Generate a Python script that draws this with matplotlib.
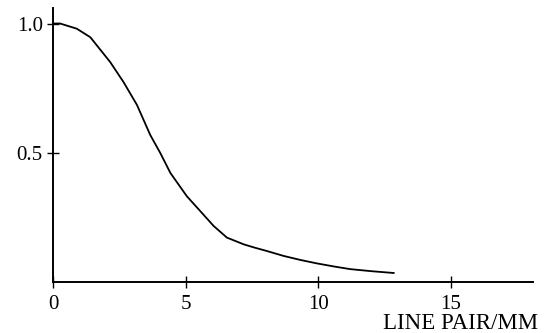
import matplotlib
matplotlib.use("Agg")
import matplotlib.pyplot as plt

# MTF-like curve
freq = [0.0, 0.26, 0.89, 1.40, 2.15, 2.65, 3.16, 3.66, 4.04, 4.42, 5.04, 5.55,
        6.05, 6.55, 7.18, 7.6, 8.06, 8.69, 9.3, 9.95, 10.6, 11.2, 12.0, 12.84]
response = [1.0, 1.0, 0.98, 0.947, 0.851, 0.774, 0.685, 0.569, 0.499, 0.422, 0.332, 0.274,
            0.217, 0.172, 0.146, 0.133, 0.12, 0.101, 0.086, 0.072, 0.06, 0.05, 0.042, 0.035]

xticks = [0, 5, 10, 15]
xtick_labels = ["0", "5", "10", "15"]
yticks = [0.5, 1.0]
ytick_labels = ["0.5", "1.0"]

plt.rcParams['font.family'] = ['Liberation Serif', 'DejaVu Serif']

fig = plt.figure(figsize=(5.48, 3.33), dpi=100)
ax = fig.add_axes([0.097, 0.153, 0.876, 0.823])

ax.plot(freq, response, color='black', linewidth=1.3)

ax.set_xlim(0, 18.1)
ax.set_ylim(0, 1.06)
ax.set_xticks(xticks)
ax.set_xticklabels(xtick_labels)
ax.set_yticks(yticks)
ax.set_yticklabels(ytick_labels)
ax.tick_params(direction='inout', length=9, width=1.0, labelsize=15)
ax.tick_params(axis='x', pad=4.5)
ax.tick_params(axis='y', pad=3)

ax.spines['top'].set_visible(False)
ax.spines['right'].set_visible(False)
ax.spines['left'].set_linewidth(1.4)
ax.spines['bottom'].set_linewidth(1.4)

fig.text(0.982, 0.012, "LINE PAIR/MM", ha='right', va='baseline', fontsize=16.5)

fig.savefig("out.png", dpi=100)
